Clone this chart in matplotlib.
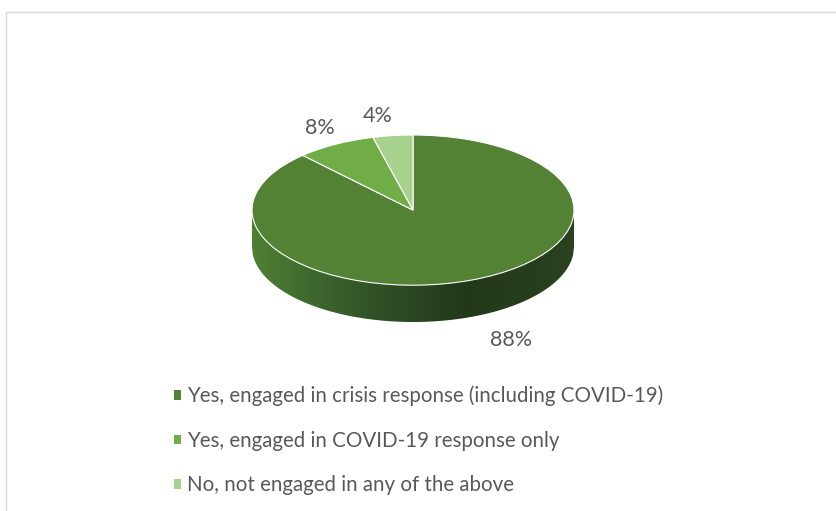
import numpy as np
import matplotlib
matplotlib.use("Agg")
import matplotlib.pyplot as plt
from matplotlib.colors import LinearSegmentedColormap
from matplotlib.patches import Rectangle

categories = ["Yes, engaged in crisis response (including COVID-19)",
              "Yes, engaged in COVID-19 response only",
              "No, not engaged in any of the above"]
shares = [88, 8, 4]
pct_labels = ["88%", "8%", "4%"]
colors = ["#548235", "#70AD47", "#A9D18E"]

TEXT = "#595959"
W, H = 836, 511
depth = 0.49  # pie thickness in units of the vertical radius

fig = plt.figure(figsize=(W / 100, H / 100), dpi=100)
plt.rcParams["font.family"] = ["Lato", "DejaVu Sans"]

# light chart-area border
fig.patches.append(Rectangle((6 / W, -0.1), 1.2, (H - 12) / H + 0.1,
                             transform=fig.transFigure, fill=False,
                             edgecolor="#d9d9d9", linewidth=1.0))

# pie axes: ellipse with a=161px, b=75px, center at (413, 210)
ax = fig.add_axes([252 / W, (H - 322) / H, 322 / W, 187 / H])
wedges, _ = ax.pie(shares, colors=colors, startangle=90, counterclock=False,
                   wedgeprops=dict(edgecolor="white", linewidth=0.8))
ax.set_aspect("auto")

# side wall of the 3D pie with a horizontal gradient
xs = np.linspace(-1, 1, 400)
side = ax.fill_between(xs, -depth - np.sqrt(1 - xs ** 2), 0, color="none", zorder=0)
cmap = LinearSegmentedColormap.from_list("side", ["#4f7f33", "#34562a", "#22381a", "#2a4220"])
img = ax.imshow(np.linspace(0, 1, 256)[None, :], cmap=cmap, aspect="auto",
                extent=(-1, 1, -1 - depth, 0), zorder=0)
img.set_clip_path(side.get_paths()[0], transform=ax.transData)
ax.set_xlim(-1, 1)
ax.set_ylim(-1 - depth, 1)
ax.axis("off")

# percentage labels
label_pos = [(0.61, -1.73), (-0.58, 1.09), (-0.22, 1.25)]
for (x, y), t in zip(label_pos, pct_labels):
    ax.text(x, y, t, ha="center", va="center", fontsize=15.5, color=TEXT,
            clip_on=False)

leg = fig.legend(wedges, categories, loc="upper left",
                 bbox_to_anchor=(155 / W, 1 - 367 / H), frameon=False,
                 fontsize=14.8, labelcolor=TEXT, handlelength=0.35,
                 handleheight=0.35, handletextpad=0.3, labelspacing=1.2)
for h in leg.legend_handles:
    h.set_edgecolor("none")

fig.savefig("out.png", dpi=100)
